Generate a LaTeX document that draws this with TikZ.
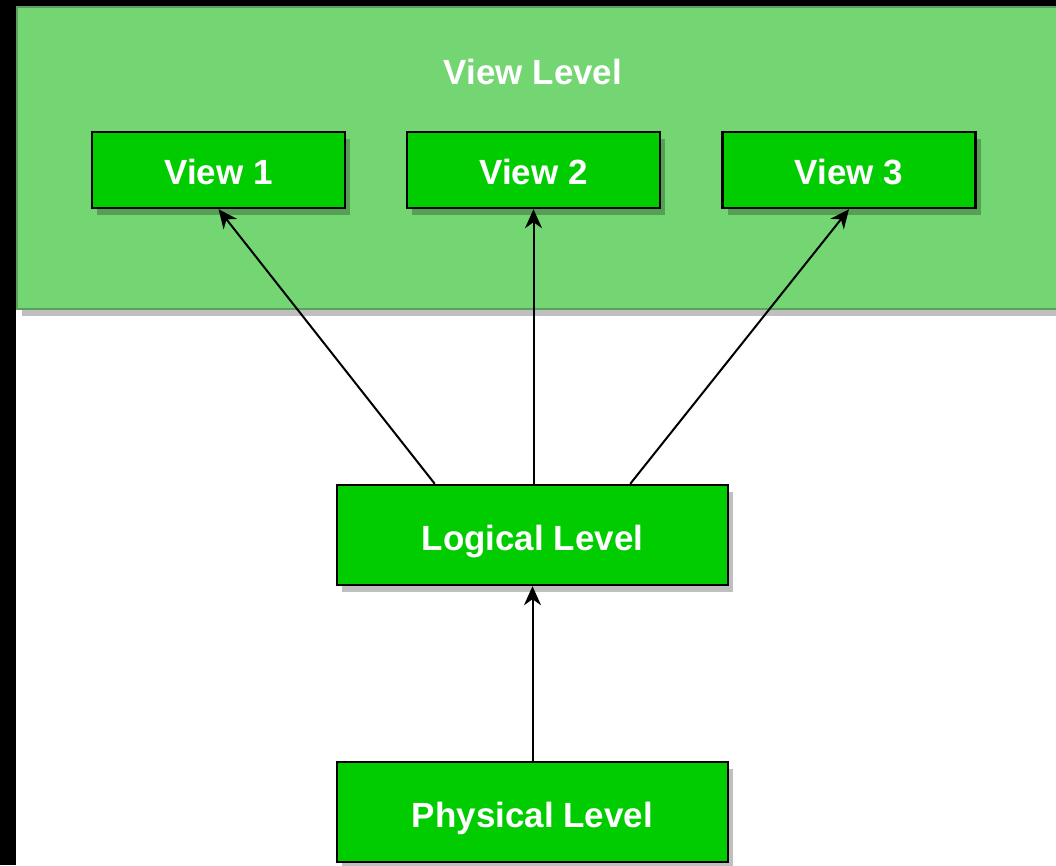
\documentclass[tikz,border=0pt]{standalone}
\usepackage{fontspec}
\setmainfont{Liberation Sans}
\usetikzlibrary{arrows.meta,shadows}
\definecolor{panelfill}{HTML}{73D673}
\definecolor{panelline}{HTML}{5E9E5E}
\definecolor{boxfill}{HTML}{00CC00}
\tikzset{
  shd/.style={drop shadow={shadow xshift=5pt,shadow yshift=-7pt,opacity=0.25,fill=black}},
  panel/.style={rectangle,draw=panelline,line width=2pt,fill=panelfill,shd,inner sep=0pt},
  lvlbox/.style={rectangle,draw=black,line width=2.4pt,fill=boxfill,shd,inner sep=0pt,
    text=white,font=\fontsize{35}{40}\selectfont\bfseries},
  viewbox/.style={lvlbox,minimum width=253pt,minimum height=76pt,text height=29pt,text depth=0pt},
  bigbox/.style={lvlbox,minimum width=391pt,minimum height=100pt,text height=31pt,text depth=0pt},
  conn/.style={draw=black,line width=2pt,-{Stealth[length=19pt,width=17pt,inset=6pt]}},
  title/.style={text=white,font=\fontsize{35}{40}\selectfont\bfseries,inner sep=0pt}
}
\begin{document}
\begin{tikzpicture}[x=1pt,y=-1pt]
\clip (0,0) rectangle (1056,865);
\fill[black] (0,0) rectangle (1056,865);
\fill[white] (16,6) rectangle (1056,865);
\node[panel,minimum width=1050pt,minimum height=302pt,anchor=north west] (panel) at (16,6) {};
\node[title] (vltitle) at (533,72) {View Level};
\node[viewbox] (v1) at (218.5,170) {View 1};
\node[viewbox] (v2) at (533.5,170) {View 2};
\node[viewbox] (v3) at (849,170) {View 3};
\node[bigbox] (logical) at (532.5,535) {Logical Level};
\node[bigbox] (physical) at (532.5,812) {Physical Level};
\draw[conn] ([xshift=-97.75pt]logical.north) -- (v1.south);
\draw[conn] (logical.north -| v2.south) -- (v2.south);
\draw[conn] ([xshift=97.75pt]logical.north) -- (v3.south);
\draw[conn] (physical.north) -- (logical.south);
\end{tikzpicture}
\end{document}
